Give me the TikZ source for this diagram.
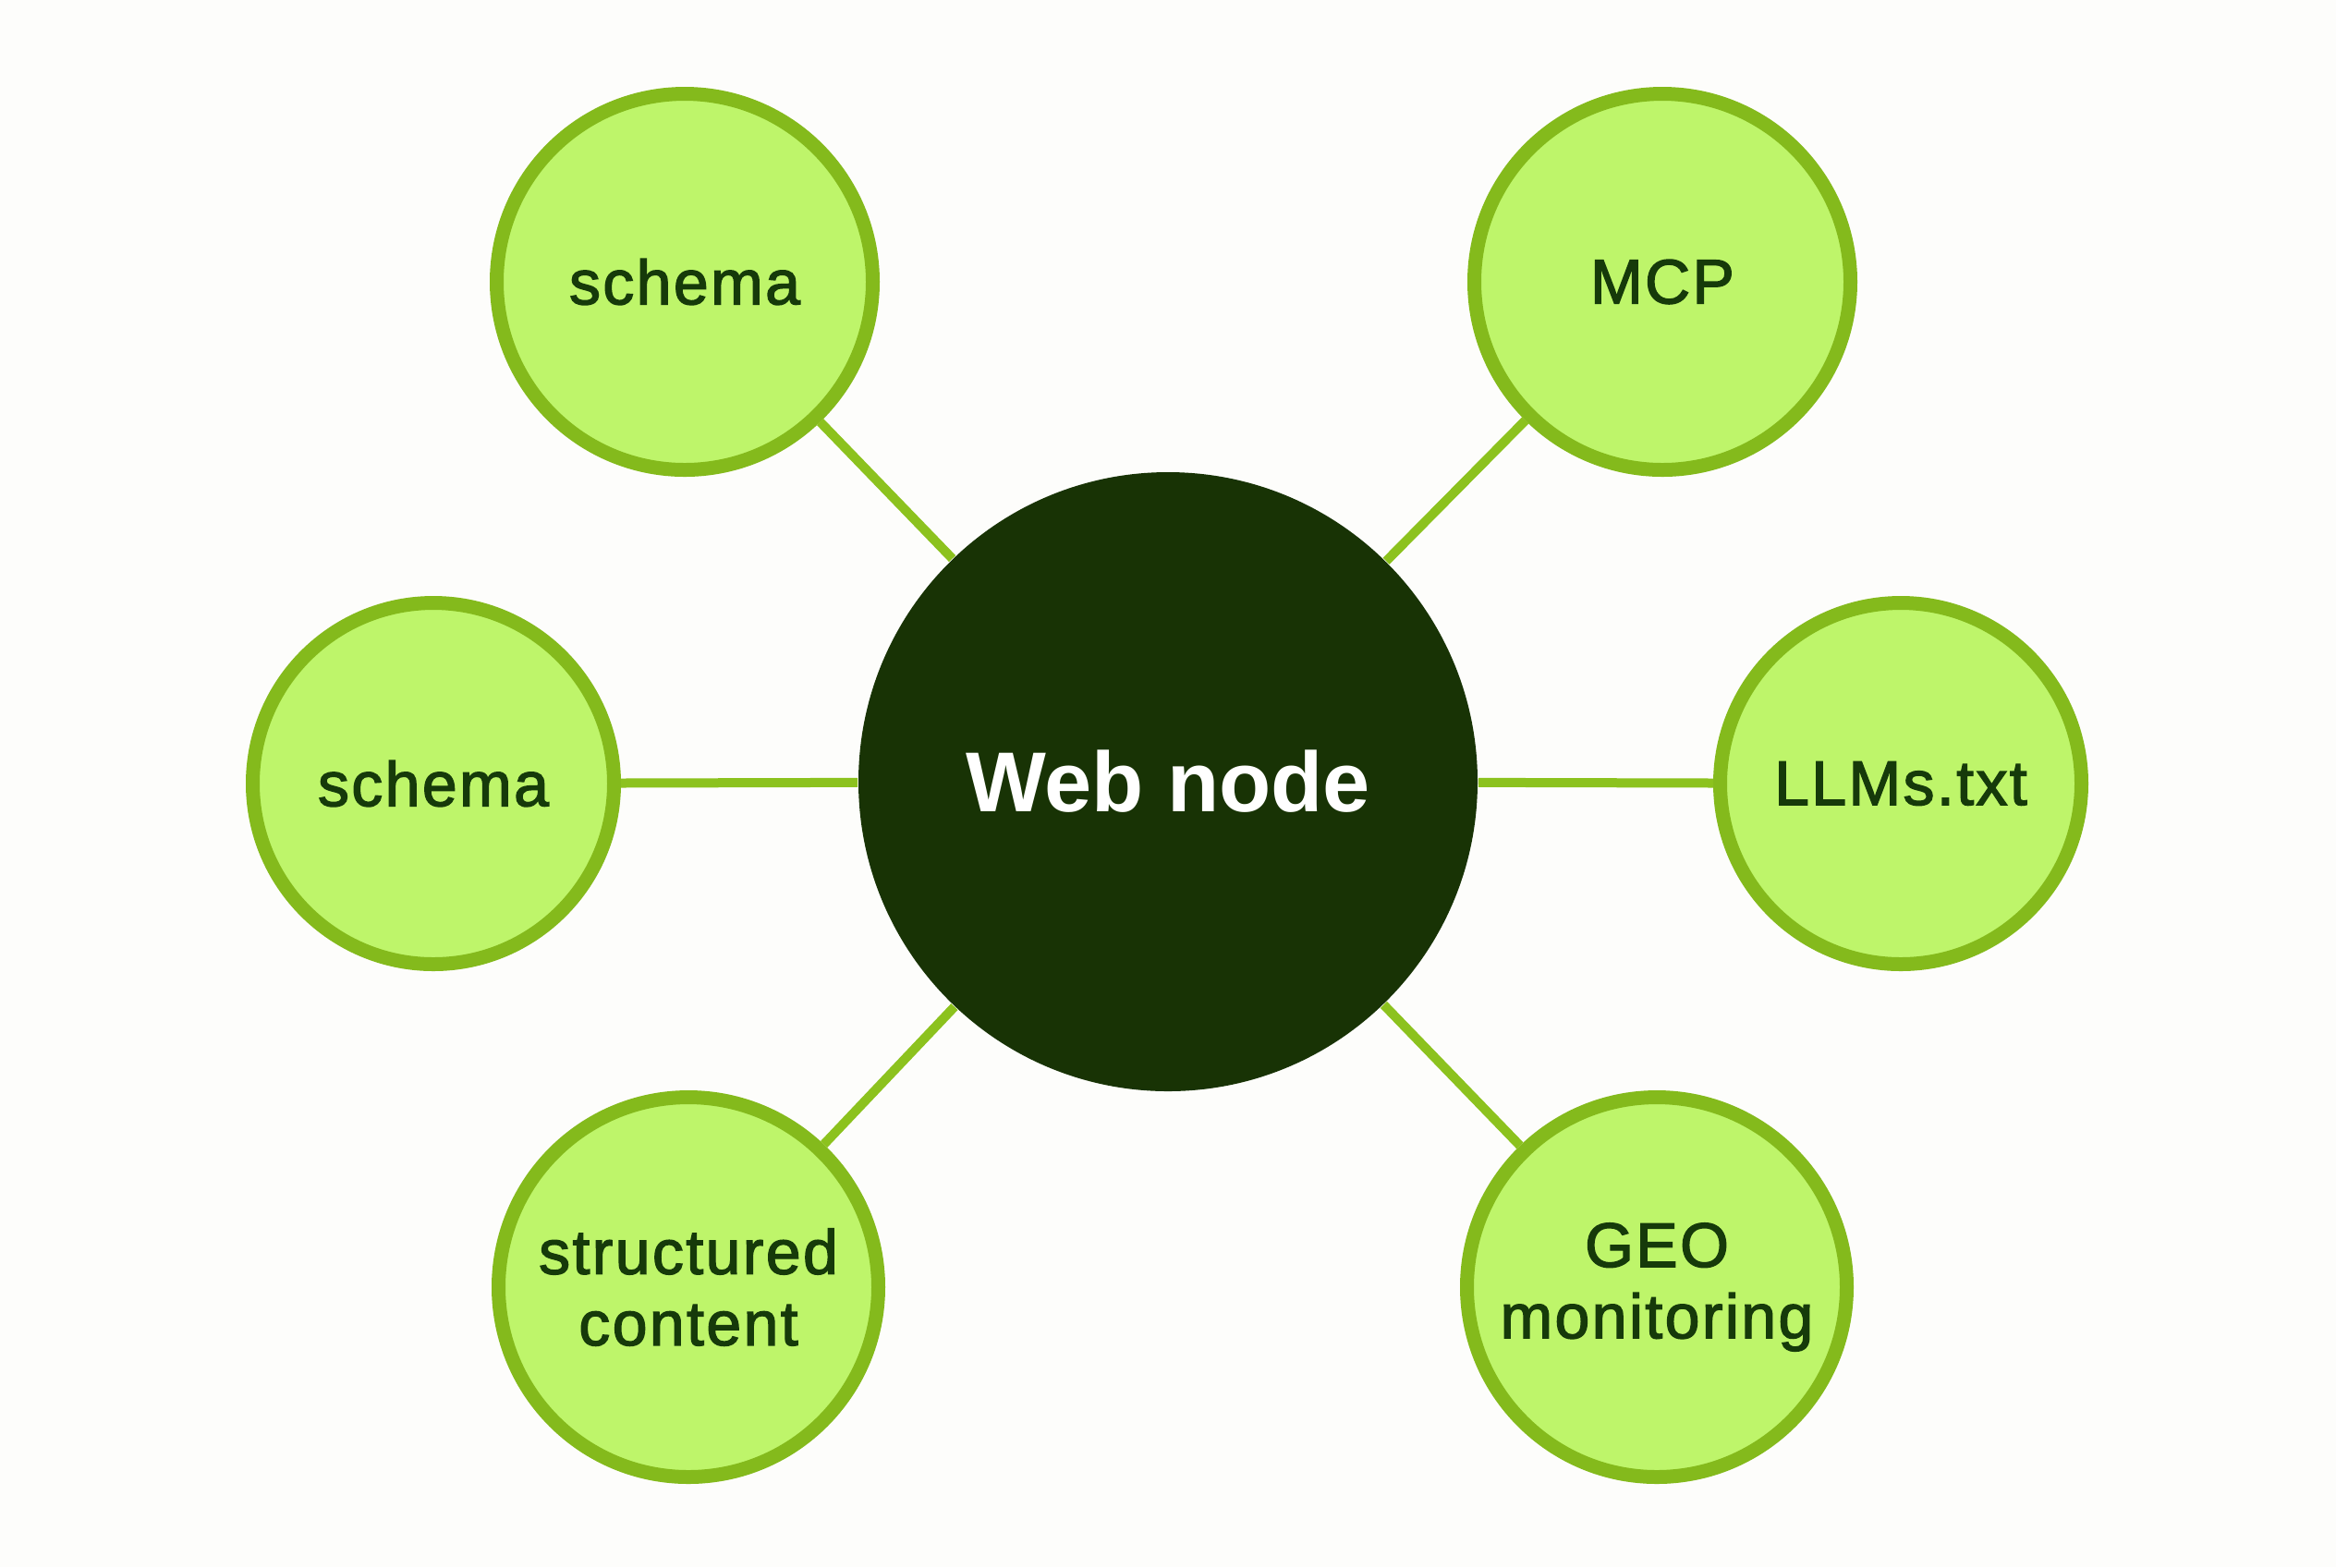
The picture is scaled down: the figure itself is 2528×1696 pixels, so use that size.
\documentclass[tikz,border=0pt]{standalone}
\usepackage{fontspec}
\setmainfont{Liberation Sans}
\newfontfamily\labelfont[FakeBold=2,LetterSpace=3.5]{Liberation Sans}
\definecolor{bgcol}{HTML}{FDFDFB}
\definecolor{leaffill}{HTML}{BEF56A}
\definecolor{leafborder}{HTML}{84BA1C}
\definecolor{linkcol}{HTML}{8CC21E}
\definecolor{hubfill}{HTML}{183305}
\definecolor{leaftext}{HTML}{163A0A}
\begin{document}
\begin{tikzpicture}[x=0.25pt,y=-0.25pt,
  leaf/.style={circle, draw=leafborder, line width=3.75pt, fill=leaffill,
    minimum size=#1, inner sep=0pt, text=leaftext, align=center,
    font=\labelfont\fontsize{17}{19.3}\selectfont},
  hub/.style={circle, fill=hubfill, minimum size=167.5pt, inner sep=0pt,
    text=white, font=\bfseries\fontsize{23}{27}\selectfont},
  link/.style={draw=linkcol, line width=2.5pt}]
\useasboundingbox[fill=bgcol] (0,0) rectangle (2528,1696);

\node[hub] (web) at (1264,846) {Web node};

\node[leaf=101.75pt] (tl) at (741,305) {schema};
\node[leaf=97.75pt] (l) at (469,848) {schema};
\node[leaf=102.75pt] (bl) at (745,1393) {structured\\content};
\node[leaf=101.75pt] (tr) at (1799,305) {MCP};
\node[leaf=97.75pt] (r) at (2057,848) {LLMs.txt};
\node[leaf=102.75pt] (br) at (1793,1393) {GEO\\monitoring};

\draw[link] (web) -- (tl);
\draw[link] (web) -- (l);
\draw[link] (web) -- (bl);
\draw[link] (web) -- (tr);
\draw[link] (web) -- (r);
\draw[link] (web) -- (br);
\end{tikzpicture}
\end{document}
